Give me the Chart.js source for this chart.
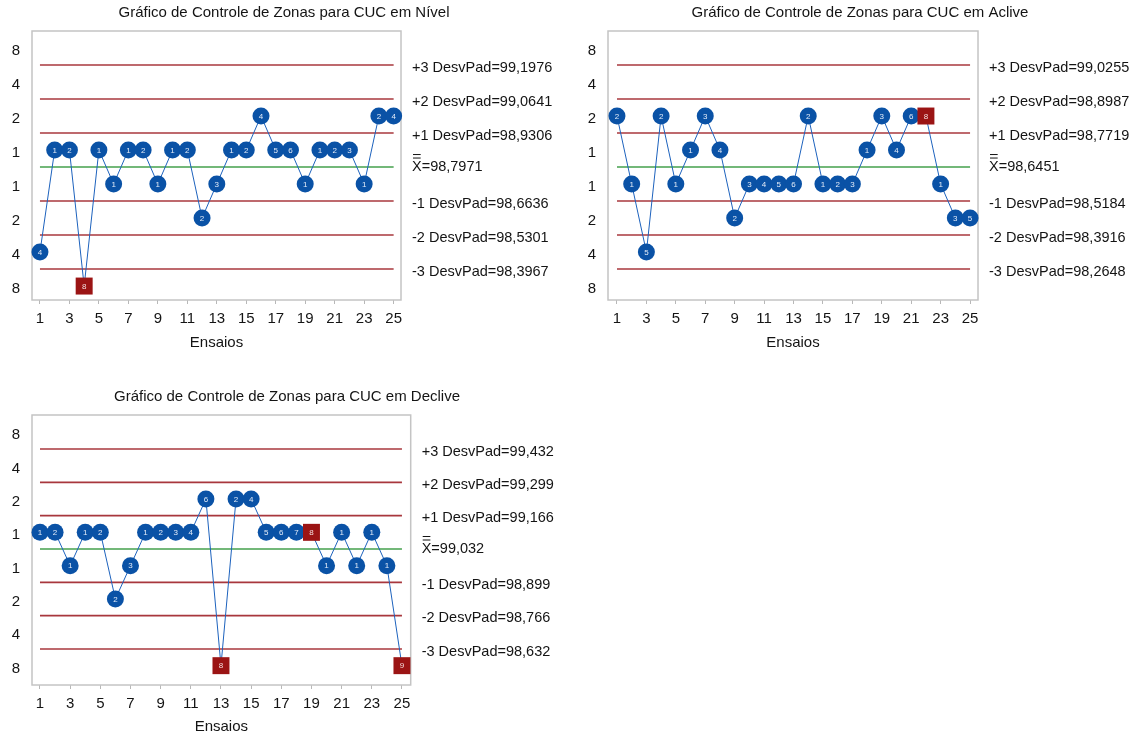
<!DOCTYPE html>
<html lang="pt">
<head>
<meta charset="utf-8">
<title>Gráficos de Controle de Zonas - CUC</title>
<script src="https://cdn.jsdelivr.net/npm/chart.js@4.4.1/dist/chart.umd.min.js"></script>
<style>
  html, body { margin: 0; padding: 0; background: #fff; }
  body { width: 1137px; height: 739px; position: relative; overflow: hidden; }
  canvas { position: absolute; }
</style>
</head>
<body>
<canvas id="cNivel" width="570" height="370" style="left:0;top:0"></canvas>
<canvas id="cAclive" width="561" height="370" style="left:576px;top:0"></canvas>
<canvas id="cDeclive" width="570" height="355" style="left:0;top:384px"></canvas>
<script>
// ensaios (eixo x) e marcas do eixo
const ensaios = [1, 2, 3, 4, 5, 6, 7, 8, 9, 10, 11, 12, 13, 14, 15, 16, 17, 18, 19, 20, 21, 22, 23, 24, 25];
const xTicks = [1, 3, 5, 7, 9, 11, 13, 15, 17, 19, 21, 23, 25];

// zonas: +/-1..+/-3 dentro dos limites, +/-4 fora de 3 DesvPad
const yTickPos = [-3.5, -2.5, -1.5, -0.5, 0.5, 1.5, 2.5, 3.5];
const yTickLabels = ['8', '4', '2', '1', '1', '2', '4', '8'];
const niveisSigma = [3, 2, 1, 0, -1, -2, -3];
const rotulosSigma = ['+3 DesvPad=', '+2 DesvPad=', '+1 DesvPad=', '=', '-1 DesvPad=', '-2 DesvPad=', '-3 DesvPad='];

// CUC em Nível
const zonaNivel = [-3, 1, 1, -4, 1, -1, 1, 1, -1, 1, 1, -2, -1, 1, 1, 2, 1, 1, -1, 1, 1, 1, -1, 2, 2];
const pontosNivel = [4, 1, 2, 8, 1, 1, 1, 2, 1, 1, 2, 2, 3, 1, 2, 4, 5, 6, 1, 1, 2, 3, 1, 2, 4];
const limitesNivel = ['99,1976', '99,0641', '98,9306', '98,7971', '98,6636', '98,5301', '98,3967'];

// CUC em Aclive
const zonaAclive = [2, -1, -3, 2, -1, 1, 2, 1, -2, -1, -1, -1, -1, 2, -1, -1, -1, 1, 2, 1, 2, 2, -1, -2, -2];
const pontosAclive = [2, 1, 5, 2, 1, 1, 3, 4, 2, 3, 4, 5, 6, 2, 1, 2, 3, 1, 3, 4, 6, 8, 1, 3, 5];
const limitesAclive = ['99,0255', '98,8987', '98,7719', '98,6451', '98,5184', '98,3916', '98,2648'];

// CUC em Declive
const zonaDeclive = [1, 1, -1, 1, 1, -2, -1, 1, 1, 1, 1, 2, -4, 2, 2, 1, 1, 1, 1, -1, 1, -1, 1, -1, -4];
const pontosDeclive = [1, 2, 1, 1, 2, 2, 3, 1, 2, 3, 4, 6, 8, 2, 4, 5, 6, 7, 8, 1, 1, 1, 1, 1, 9];
const limitesDeclive = ['99,432', '99,299', '99,166', '99,032', '98,899', '98,766', '98,632'];

const FONTE = '"Liberation Sans", Arial, sans-serif';
const AZUL = '#0a52a6';
const VERMELHO = '#9b1414';

function centroZona(z) {
    return Math.sign(z) * (Math.abs(z) - 0.5);
}

const zonasPlugin = {
    id: 'zonas',
    beforeDatasetsDraw(chart) {
        const { ctx, chartArea: a } = chart;
        ctx.save();
        ctx.strokeStyle = '#c4c4c4';
        ctx.lineWidth = 1.5;
        ctx.strokeRect(a.left, a.top, a.right - a.left, a.bottom - a.top);
        ctx.restore();
    },
    afterDatasetsDraw(chart, args, opts) {
        const ctx = chart.ctx;
        const meta = chart.getDatasetMeta(0);
        ctx.save();
        ctx.font = '8px ' + FONTE;
        ctx.textAlign = 'center';
        ctx.textBaseline = 'middle';
        meta.data.forEach((pt, i) => {
            ctx.fillStyle = opts.pontos[i] >= 8 ? '#f3dede' : '#e2ebf8';
            ctx.fillText(String(opts.pontos[i]), pt.x, pt.y + 0.5);
        });
        ctx.restore();
    },
    afterDraw(chart, args, opts) {
        const { ctx, chartArea: a } = chart;
        const y = chart.scales.y;
        ctx.save();
        ctx.fillStyle = '#141414';
        ctx.font = '15px ' + FONTE;
        ctx.textAlign = 'center';
        ctx.textBaseline = 'middle';
        ctx.fillText(opts.titulo, opts.tituloX, 12.5);

        ctx.textAlign = 'left';
        ctx.font = '14.5px ' + FONTE;
        const x0 = a.right + 11;
        niveisSigma.forEach((s, i) => {
            const yy = y.getPixelForValue(s);
            if (s === 0) {
                ctx.fillText('X', x0, yy - 0.5);
                const w = ctx.measureText('X').width;
                ctx.fillText(rotulosSigma[i] + opts.limites[i], x0 + w, yy - 0.5);
                ctx.fillRect(x0 + 1, yy - 13, w - 2, 1);
                ctx.fillRect(x0 + 1, yy - 9.5, w - 2, 1);
            } else {
                ctx.fillText(rotulosSigma[i] + opts.limites[i], x0, yy + 2.5);
            }
        });
        ctx.restore();
    }
};

function criaGrafico(id, cfg) {
    const canvas = document.getElementById(id);
    const pontos = cfg.pontos;
    const serie = {
        type: 'line',
        data: ensaios.map((x, i) => ({ x: x, y: centroZona(cfg.zonas[i]) })),
        borderColor: '#1d62bd',
        borderWidth: 1,
        pointStyle: pontos.map(p => p >= 8 ? 'rect' : 'circle'),
        pointRadius: pontos.map(p => p >= 8 ? 12 : 8.5),
        pointBackgroundColor: pontos.map(p => p >= 8 ? VERMELHO : AZUL),
        pointBorderWidth: 0,
        clip: false
    };
    const linhas = niveisSigma.map(s => ({
        type: 'line',
        data: [{ x: ensaios[0], y: s }, { x: ensaios[ensaios.length - 1], y: s }],
        borderColor: s === 0 ? '#44a04c' : '#a8373d',
        borderWidth: s === 0 ? 1.5 : 1.6,
        pointRadius: 0
    }));

    return new Chart(canvas.getContext('2d'), {
        type: 'line',
        data: { datasets: [serie].concat(linhas) },
        options: {
            responsive: false,
            animation: false,
            events: [],
            layout: { padding: { left: 0, top: 31, right: cfg.direita, bottom: cfg.baixo } },
            plugins: {
                legend: { display: false },
                tooltip: { enabled: false },
                zonas: { titulo: cfg.titulo, tituloX: cfg.tituloX, pontos: pontos, limites: cfg.limites }
            },
            scales: {
                x: {
                    type: 'linear',
                    min: cfg.xMin,
                    max: cfg.xMax,
                    afterBuildTicks: s => { s.ticks = xTicks.map(v => ({ value: v })); },
                    afterFit: s => { s.height = cfg.alturaX; },
                    ticks: { padding: 5.5, autoSkip: false, maxRotation: 0, color: '#141414', font: { family: FONTE, size: 15 } },
                    grid: { drawOnChartArea: false, tickLength: 4, color: '#b8b8b8' },
                    border: { display: false },
                    title: { display: true, text: 'Ensaios', color: '#141414', font: { family: FONTE, size: 15 }, padding: { top: 0, bottom: 0 } }
                },
                y: {
                    type: 'linear',
                    min: cfg.yMin,
                    max: cfg.yMax,
                    afterBuildTicks: s => { s.ticks = yTickPos.map(v => ({ value: v })); },
                    afterFit: s => { s.width = 32; },
                    ticks: {
                        padding: 12,
                        labelOffset: 3,
                        color: '#141414',
                        font: { family: FONTE, size: 15 },
                        callback: (v, i) => yTickLabels[i]
                    },
                    grid: { display: false, drawTicks: false },
                    border: { display: false }
                }
            }
        },
        plugins: [zonasPlugin]
    });
}

criaGrafico('cNivel', {
    titulo: 'Gráfico de Controle de Zonas para CUC em Nível', tituloX: 284,
    zonas: zonaNivel, pontos: pontosNivel, limites: limitesNivel,
    xMin: 0.46, xMax: 25.5, yMin: -3.91, yMax: 4.0,
    direita: 169, baixo: 18.5, alturaX: 51.5
});
criaGrafico('cAclive', {
    titulo: 'Gráfico de Controle de Zonas para CUC em Aclive', tituloX: 284,
    zonas: zonaAclive, pontos: pontosAclive, limites: limitesAclive,
    xMin: 0.39, xMax: 25.54, yMin: -3.91, yMax: 4.0,
    direita: 159, baixo: 18.5, alturaX: 51.5
});
criaGrafico('cDeclive', {
    titulo: 'Gráfico de Controle de Zonas para CUC em Declive', tituloX: 287,
    zonas: zonaDeclive, pontos: pontosDeclive, limites: limitesDeclive,
    xMin: 0.47, xMax: 25.58, yMin: -4.08, yMax: 4.02,
    direita: 159.3, baixo: 3.5, alturaX: 50.5
});
</script>
</body>
</html>
